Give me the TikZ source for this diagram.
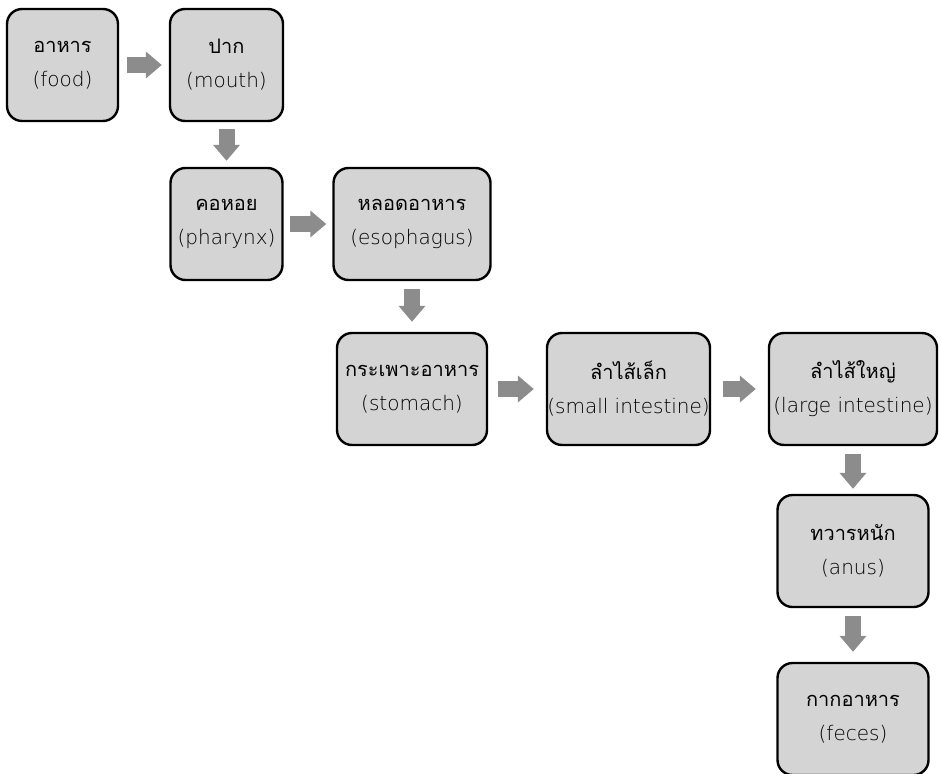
\documentclass[tikz,border=0pt]{standalone}
\usepackage{fontspec}
\newfontfamily\thaifont[Script=Thai]{Loma}
\newfontfamily\latinfont{DejaVu Sans ExtraLight}
\usetikzlibrary{arrows.meta}
\definecolor{boxgray}{HTML}{D4D4D4}
\definecolor{arrowgray}{HTML}{8C8C8C}
\newcommand{\thline}{\thaifont\fontsize{20}{34}\selectfont}
\newcommand{\enline}{\latinfont\fontsize{20}{34}\selectfont}
\begin{document}
\begin{tikzpicture}[x=1pt, y=-1pt,
  font=\thline,
  stage/.style={draw=black, line width=2.4pt, fill=boxgray, rounded corners=15pt,
    align=center, minimum height=112pt, inner sep=0pt},
  flow/.style={draw=arrowgray, line width=16pt, -{Triangle[length=16pt, width=26pt]}}]
  \useasboundingbox (0,0) rectangle (941,773);
  % stages of digestion
  \foreach \n/\x/\y/\w/\th/\en in {food/62.5/65/111/อาหาร/food, mouth/226.5/65/113/ปาก/mouth,
      pharynx/226.5/224/112/คอหอย/pharynx, esophagus/412/224/157/หลอดอาหาร/esophagus,
      stomach/412/389/150/กระเพาะอาหาร/stomach, small/628.5/389/163/ลำไส้เล็ก/small intestine,
      large/853/389/168/ลำไส้ใหญ่/large intestine, anus/853/551/151/ทวารหนัก/anus,
      feces/853/719/151/กากอาหาร/feces} {
    \node[stage, minimum width=\w pt] (\n) at (\x,\y) {\th\\\enline(\en)};
  }
  % arrows between stages
  \foreach \a/\b/\s/\e in {food/mouth/8/7, mouth/pharynx/7/6, pharynx/esophagus/6/6,
      esophagus/stomach/8/10, stomach/small/10/12, small/large/12/12,
      large/anus/8/5, anus/feces/8/10} {
    \draw[flow, shorten <=\s pt, shorten >=\e pt] (\a) -- (\b);
  }
\end{tikzpicture}
\end{document}
